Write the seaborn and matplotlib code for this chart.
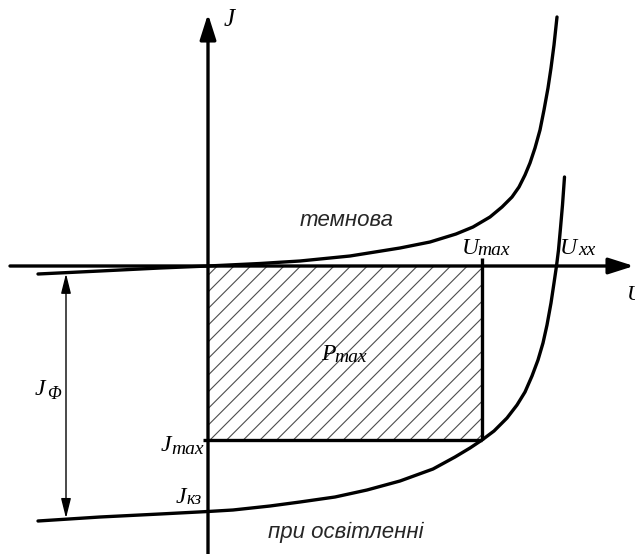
import numpy as np
import matplotlib
matplotlib.use("Agg")
import matplotlib.pyplot as plt
import seaborn as sns

# dark I-V curve (U, J), origin of the axes at (0, 0)
dark_U = [-170, -108, -48, 0, 52, 92, 142, 192, 222, 248, 265, 282, 294, 304,
          311, 317, 322, 327, 332, 336, 340, 343, 346, 349]
dark_J = [-8, -5, -2, 0, 2.5, 5, 10, 18, 24, 32, 39, 49, 59, 69,
          79, 91, 103, 118, 136, 156, 178, 198, 221, 249]

# illuminated I-V curve
light_U = [-170, -108, -48, 0, 25, 62, 92, 127, 159, 192, 225, 247, 262, 274,
           286, 299, 309, 317, 324, 330, 335, 339, 343, 346, 348.5, 350.5,
           352.5, 354.5, 356.5]
light_J = [-255, -251, -248, -245.5, -244, -240, -236, -231, -224, -215, -203,
           -191, -182, -174, -165, -152, -139, -126, -110, -94, -77, -59, -37,
           -17, 0, 16, 38, 61, 89]

# characteristic points
U_max, J_max = 274, -174
J_sc = -245.5
U_oc = 348.5

sns.set_theme(style="white")
plt.rcParams["hatch.linewidth"] = 0.8
plt.rcParams["font.family"] = ["Liberation Serif", "DejaVu Serif"]

fig = plt.figure(figsize=(6.35, 5.54), dpi=100)
ax = fig.add_axes([0, 0, 1, 1])
ax.set_xlim(-208, 427)
ax.set_ylim(-288, 266)
ax.axis("off")

LW = 2.4

# hatched power rectangle
ax.fill_between([0, U_max], J_max, 0, facecolor="none", edgecolor="0.3",
                hatch="//", linewidth=0)
ax.plot([U_max, U_max], [J_max, 8], color="black", lw=LW, solid_capstyle="butt")
ax.plot([-5, U_max], [J_max, J_max], color="black", lw=LW, solid_capstyle="butt")

# axes with arrows
arrow = dict(arrowstyle="-|>,head_length=1.1,head_width=0.35", color="black",
             lw=LW, shrinkA=0, shrinkB=0, mutation_scale=14)
ax.annotate("", xy=(426, 0), xytext=(-198, 0), arrowprops=arrow)
ax.annotate("", xy=(0, 252), xytext=(0, -290), arrowprops=arrow)

# curves
sns.lineplot(x=dark_U, y=dark_J, sort=False, estimator=None, color="black",
             lw=LW, ax=ax)
sns.lineplot(x=light_U, y=light_J, sort=False, estimator=None, color="black",
             lw=LW, ax=ax)
for line in ax.lines:
    line.set_solid_joinstyle("round")

# photocurrent span
u_ph = -142
j_top = np.interp(u_ph, dark_U, dark_J)
j_bot = np.interp(u_ph, light_U, light_J)
ax.annotate("", xy=(u_ph, j_top - 1), xytext=(u_ph, j_bot + 1),
            arrowprops=dict(arrowstyle="<|-|>,head_length=1.0,head_width=0.25",
                            color="black", lw=1.0, shrinkA=0, shrinkB=0,
                            mutation_scale=12))


def T(x, y, s, size=17, **kw):
    # place text by reference picture pixel position
    ax.text(x - 208, 266 - y, s, fontsize=size, style="italic",
            va="baseline", ha="left", color="black", **kw)


T(224, 26, "J", 18)
T(627, 300, "U", 16)
T(462, 254, "U", 17)
T(477, 255, "max", 14)
T(560, 254, "U", 17)
T(578, 255, "xx", 14)
T(321, 360, "P", 17)
T(334, 362, "max", 14)
T(161, 451, "J", 17)
T(171, 454, "max", 14)
T(176, 503, "J", 17)
T(186, 504, "кз", 13)
T(35, 395, "J", 17)
T(47, 399, "Φ", 13)

ax.text(300 - 208, 266 - 226, "темнова", fontsize=16, style="italic",
        family="Liberation Sans", ha="left", va="baseline")
ax.text(268 - 208, 266 - 538, "при освітленні", fontsize=16, style="italic",
        family="Liberation Sans", ha="left", va="baseline")

plt.savefig("out.png", dpi=100)
